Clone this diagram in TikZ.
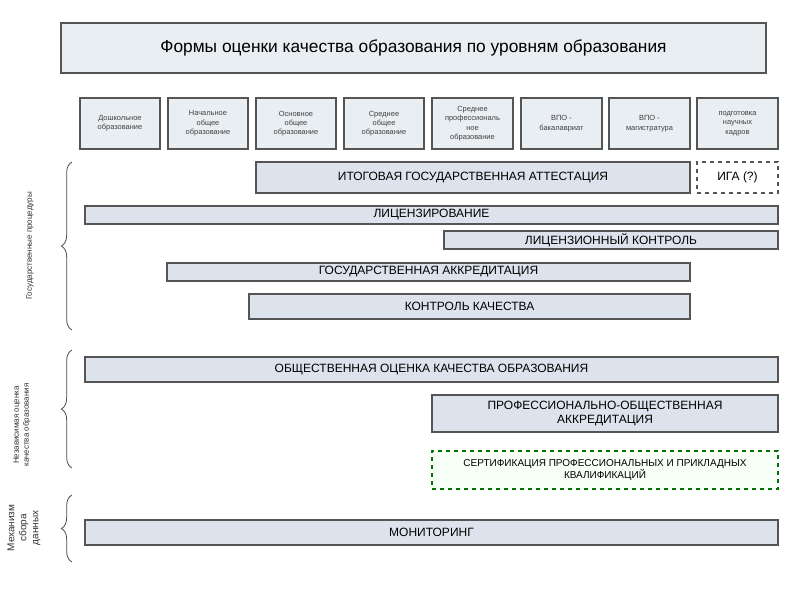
\documentclass[tikz,border=0pt]{standalone}
\usepackage{fontspec}
\setmainfont{Liberation Sans}
\usetikzlibrary{decorations.pathreplacing}
\definecolor{barfill}{HTML}{DCE3EC}
\definecolor{lvlfill}{HTML}{E9EEF2}
\definecolor{edge}{HTML}{555555}
\begin{document}
\begin{tikzpicture}[x=0.75pt,y=-0.75pt,
  bar/.style={draw=edge,fill=barfill,line width=0.8pt,font=\fontsize{9}{10}\selectfont,align=center},
  lvl/.style={draw=edge,fill=lvlfill,line width=0.8pt,font=\fontsize{5.6}{7}\selectfont,align=center,text=black!75},
  brc/.style={decorate,decoration={brace,amplitude=8pt,mirror},draw=black!70,line width=0.6pt},
  side/.style={rotate=90,font=\fontsize{6}{7.5}\selectfont,align=center,text=black!80}]
\useasboundingbox (0,0) rectangle (800,600);
\fill[white] (0,0) rectangle (800,600);
\newcommand{\bx}[6]{\node[#1,minimum width={(#4-#2)*0.75pt},minimum height={(#5-#3)*0.75pt},inner sep=1pt] (#6) at ({(#2+#4)/2},{(#3+#5)/2})}
\bx{bar,fill=lvlfill,font=\fontsize{13}{15}\selectfont}{61}{23}{766}{73}{title} {Формы оценки качества образования по уровням образования};
\bx{lvl}{80}{98}{160}{149}{l1} {Дошкольное\\образование};
\bx{lvl}{168}{98}{248}{149}{l2} {Начальное\\общее\\образование};
\bx{lvl}{256}{98}{336}{149}{l3} {Основное\\общее\\образование};
\bx{lvl}{344}{98}{424}{149}{l4} {Среднее\\общее\\образование};
\bx{lvl}{432}{98}{513}{149}{l5} {Среднее\\профессиональ\\ное\\образование};
\bx{lvl}{521}{98}{602}{149}{l6} {ВПО -\\бакалавриат};
\bx{lvl}{609}{98}{690}{149}{l7} {ВПО -\\магистратура};
\bx{lvl}{697}{98}{778}{149}{l8} {подготовка\\научных\\кадров};
\bx{bar}{256}{162}{690}{193}{iga} {ИТОГОВАЯ ГОСУДАРСТВЕННАЯ АТТЕСТАЦИЯ};
\bx{bar,fill=white,dashed}{697}{162}{778}{193}{igaq} {ИГА (?)};
\bx{bar}{85}{206}{778}{224}{lic} {ЛИЦЕНЗИРОВАНИЕ};
\bx{bar}{444}{231}{778}{249}{lk} {ЛИЦЕНЗИОННЫЙ КОНТРОЛЬ};
\bx{bar}{167}{263}{690}{281}{ga} {ГОСУДАРСТВЕННАЯ АККРЕДИТАЦИЯ};
\bx{bar}{249}{294}{690}{319}{kk} {КОНТРОЛЬ  КАЧЕСТВА};
\bx{bar}{85}{357}{778}{382}{ob} {ОБЩЕСТВЕННАЯ ОЦЕНКА КАЧЕСТВА ОБРАЗОВАНИЯ};
\bx{bar}{432}{395}{778}{432}{po} {ПРОФЕССИОНАЛЬНО-ОБЩЕСТВЕННАЯ\\АККРЕДИТАЦИЯ};
\bx{bar,fill=green!3,draw=green!45!black,dashed,font=\fontsize{7.5}{9}\selectfont}{432}{451}{778}{489}{sert} {СЕРТИФИКАЦИЯ ПРОФЕССИОНАЛЬНЫХ  И ПРИКЛАДНЫХ\\КВАЛИФИКАЦИЙ};
\bx{bar}{85}{520}{778}{545}{mon} {МОНИТОРИНГ};
\coordinate (b1t) at (72,162); \coordinate (b1b) at (72,330);
\coordinate (b2t) at (72,350); \coordinate (b2b) at (72,468);
\coordinate (b3t) at (72,495); \coordinate (b3b) at (72,562);
\draw[brc] (b1t) -- (b1b);
\draw[brc] (b2t) -- (b2b);
\draw[brc] (b3t) -- (b3b);
\node[side] (s1) at (30,246) {Государственные процедуры};
\node[side] (s2) at (22,425) {Независимая оценка\\качества образования};
\node[side,font=\fontsize{7.5}{9}\selectfont] (s3) at (24,528) {Механизм\\сбора\\данных};
\end{tikzpicture}
\end{document}
